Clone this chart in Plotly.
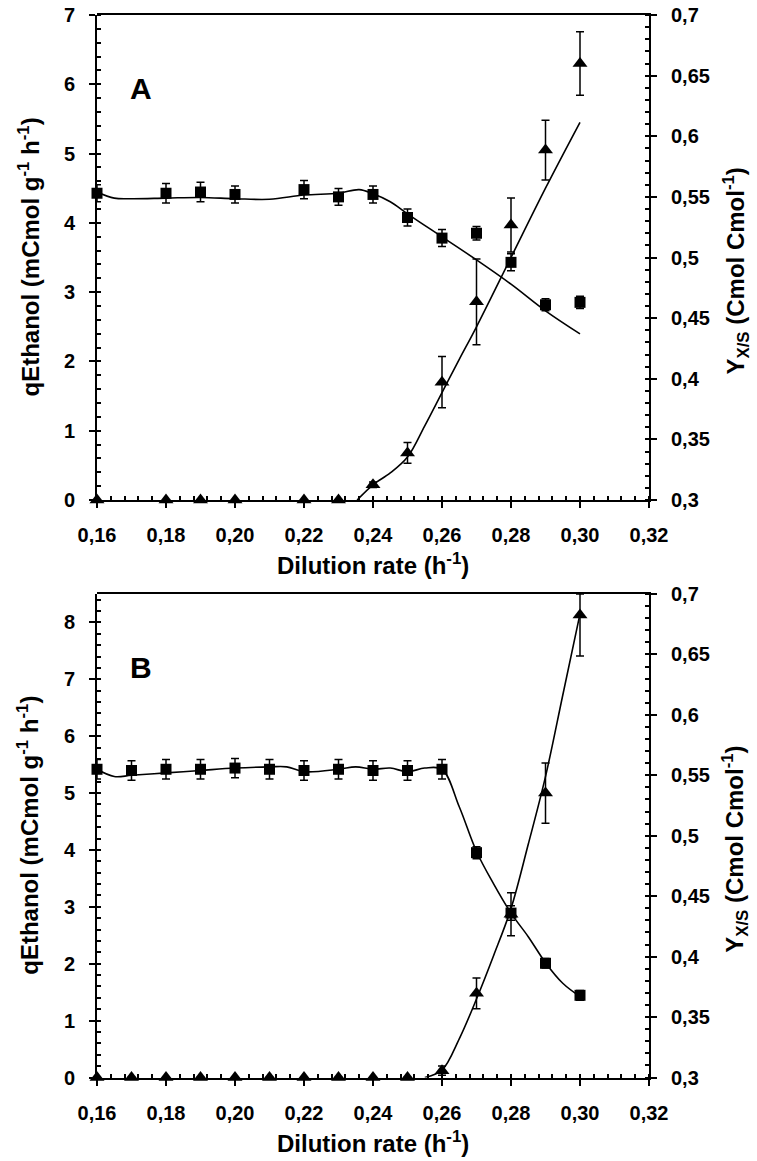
import plotly.graph_objects as go

# ---------------- data ----------------
# Panel A
dil_A = [0.16, 0.18, 0.19, 0.20, 0.22, 0.23, 0.24, 0.25, 0.26, 0.27, 0.28, 0.29, 0.30]
yxs_A = [0.553, 0.553, 0.554, 0.552, 0.556, 0.550, 0.552, 0.533, 0.516, 0.520, 0.496, 0.461, 0.463]
yxs_A_err = [0.007, 0.008, 0.008, 0.007, 0.0075, 0.007, 0.007, 0.007, 0.007, 0.0055, 0.007, 0.005, 0.005]
qeth_A = [0, 0, 0, 0, 0, 0, 0.22, 0.68, 1.70, 2.86, 3.97, 5.05, 6.30]
qeth_A_err = [0, 0, 0, 0, 0, 0, 0.04, 0.15, 0.37, 0.62, 0.39, 0.43, 0.46]

fitx_yxs_A = [0.16, 0.165, 0.17, 0.18, 0.19, 0.20, 0.21, 0.22, 0.23, 0.236, 0.24, 0.245, 0.25,
              0.26, 0.27, 0.28, 0.29, 0.30]
fity_yxs_A = [0.554, 0.549, 0.5485, 0.549, 0.5495, 0.5485, 0.548, 0.5515, 0.553, 0.556, 0.5525,
              0.546, 0.536, 0.517, 0.498, 0.478, 0.456, 0.437]
fitx_qeth_A = [0.2354, 0.24, 0.245, 0.25, 0.255, 0.26, 0.265, 0.27, 0.28, 0.29, 0.30]
fity_qeth_A = [0.0, 0.22, 0.39, 0.62, 1.07, 1.55, 2.03, 2.5, 3.5, 4.5, 5.45]

# Panel B
dil_B = [0.16, 0.17, 0.18, 0.19, 0.20, 0.21, 0.22, 0.23, 0.24, 0.25, 0.26, 0.27, 0.28, 0.29, 0.30]
yxs_B = [0.555, 0.554, 0.555, 0.555, 0.556, 0.555, 0.554, 0.555, 0.554, 0.554, 0.555,
         0.486, 0.436, 0.3945, 0.368]
yxs_B_err = [0.008] * 11 + [0.005, 0.006, 0.004, 0.004]
qeth_B = [0, 0, 0, 0, 0, 0, 0, 0, 0, 0, 0.12, 1.48, 2.87, 5.0, 8.13]
qeth_B_err_plus = [0] * 10 + [0.08, 0.27, 0.38, 0.53, 0.37]
qeth_B_err_minus = [0] * 10 + [0.08, 0.27, 0.38, 0.53, 0.72]

fitx_yxs_B = [0.16, 0.165, 0.17, 0.18, 0.19, 0.20, 0.21, 0.215, 0.22, 0.23, 0.235, 0.24, 0.245,
              0.25, 0.255, 0.26, 0.265, 0.27, 0.275, 0.28, 0.285, 0.29, 0.295, 0.30]
fity_yxs_B = [0.555, 0.549, 0.550, 0.552, 0.554, 0.556, 0.557, 0.557, 0.553, 0.555, 0.557, 0.555,
              0.556, 0.553, 0.556, 0.555, 0.524, 0.487, 0.460, 0.436, 0.4165, 0.395, 0.378, 0.367]
fitx_qeth_B = [0.255, 0.26, 0.265, 0.27, 0.275, 0.28, 0.285, 0.29, 0.295, 0.30]
fity_qeth_B = [0.0, 0.13, 0.68, 1.38, 2.15, 2.97, 4.1, 5.29, 6.72, 8.15]

# tick labels
x_tickvals = [0.16, 0.18, 0.20, 0.22, 0.24, 0.26, 0.28, 0.30, 0.32]
x_ticktext = ["0,16", "0,18", "0,20", "0,22", "0,24", "0,26", "0,28", "0,30", "0,32"]
yA_tickvals = [0, 1, 2, 3, 4, 5, 6, 7]
yA_ticktext = ["0", "1", "2", "3", "4", "5", "6", "7"]
yB_tickvals = [0, 1, 2, 3, 4, 5, 6, 7, 8]
yB_ticktext = ["0", "1", "2", "3", "4", "5", "6", "7", "8"]
r_tickvals = [0.3, 0.35, 0.4, 0.45, 0.5, 0.55, 0.6, 0.65, 0.7]
r_ticktext = ["0,3", "0,35", "0,4", "0,45", "0,5", "0,55", "0,6", "0,65", "0,7"]

# ---------------- layout geometry ----------------
W, H = 757, 1161
FONT = "Liberation Sans"


def fx(px):
    return px / W


def fy(py):
    return (H - py) / H


X_L, X_R = 97, 649
A_T, A_B = 15, 500
B_T, B_B = 594, 1077.5
X_RANGE = [0.16, 0.32]
YA_RANGE = [0, 7]
YB_RANGE = [0, 8.5]
PAD = 14  # px of breathing room so markers on the frame edge are not clipped

x_dom = [fx(X_L), fx(X_R)]
yA_dom = [fy(A_B), fy(A_T)]
yB_dom = [fy(B_B), fy(B_T)]


def padded(rng, p0, p1):
    """extend an axis range by PAD pixels each side, keeping the same px/unit scale"""
    per_px = (rng[1] - rng[0]) / abs(p1 - p0)
    return [rng[0] - PAD * per_px, rng[1] + PAD * per_px]


fig = go.Figure()

LINE = dict(color="black", width=1.6)
ERR = dict(color="black", thickness=1.5, width=4)


def add_panel(xa, ya_right, ya_left, xa_pad, ya_pad, dil, yxs, yxs_err, qeth, qerr_p, qerr_m,
              fxs, fys, fxq, fyq):
    fig.add_trace(go.Scatter(x=fxs, y=fys, mode="lines", line=dict(shape="spline", smoothing=1.0, **LINE),
                             xaxis=xa, yaxis=ya_right, showlegend=False, hoverinfo="skip"))
    fig.add_trace(go.Scatter(x=fxq, y=fyq, mode="lines", line=dict(shape="spline", smoothing=1.0, **LINE),
                             xaxis=xa, yaxis=ya_left, showlegend=False, hoverinfo="skip"))
    fig.add_trace(go.Scatter(x=dil, y=yxs, mode="markers",
                             marker=dict(symbol="square", size=11, color="black"),
                             error_y=dict(type="data", array=yxs_err, visible=True, **ERR),
                             xaxis=xa, yaxis=ya_right, showlegend=False, cliponaxis=False))
    # triangles on a padded (hidden) copy of the left scale so that points on the frame stay whole
    fig.add_trace(go.Scatter(x=dil, y=qeth, mode="markers",
                             marker=dict(symbol="triangle-up", size=13, color="black"),
                             error_y=dict(type="data", array=qerr_p, arrayminus=qerr_m,
                                          symmetric=False, visible=True, **ERR),
                             xaxis=xa_pad, yaxis=ya_pad, showlegend=False, cliponaxis=False))


add_panel("x", "y", "y2", "x3", "y5", dil_A, yxs_A, yxs_A_err, qeth_A, qeth_A_err, qeth_A_err,
          fitx_yxs_A, fity_yxs_A, fitx_qeth_A, fity_qeth_A)
add_panel("x2", "y3", "y4", "x4", "y6", dil_B, yxs_B, yxs_B_err, qeth_B, qeth_B_err_plus,
          qeth_B_err_minus, fitx_yxs_B, fity_yxs_B, fitx_qeth_B, fity_qeth_B)

tickfont = dict(family=FONT, size=20, color="black", weight="bold")


def xaxis_cfg(anchor):
    return dict(domain=x_dom, anchor=anchor, range=X_RANGE, tickmode="array",
                tickvals=x_tickvals, ticktext=x_ticktext, ticks="outside", ticklen=6,
                tickwidth=2, tickcolor="black", showline=True, linewidth=2, linecolor="black",
                mirror=True, showgrid=False, zeroline=False, tickfont=tickfont,
                ticklabelstandoff=10, automargin=False, layer="below traces",
                minor=dict(tickmode="linear", tick0=0.16, dtick=0.004, ticks="inside",
                           ticklen=4, tickwidth=1.5, tickcolor="black", showgrid=False))


def yleft_cfg(dom, anchor, rng, tv, tt):
    return dict(domain=dom, anchor=anchor, side="left", range=rng, tickmode="array",
                tickvals=tv, ticktext=tt,
                ticks="outside", ticklen=6, tickwidth=2, tickcolor="black", showline=True,
                linewidth=2, linecolor="black", showgrid=False, zeroline=False,
                tickfont=tickfont, ticklabelstandoff=10, automargin=False, layer="below traces",
                minor=dict(tickmode="linear", tick0=0, dtick=0.2, ticks="inside", ticklen=4,
                           tickwidth=1.5, tickcolor="black", showgrid=False))


def yright_cfg(dom, anchor):
    return dict(domain=dom, anchor=anchor, side="right", range=[0.3, 0.7],
                tickmode="array", tickvals=r_tickvals, ticktext=r_ticktext,
                ticks="outside", ticklen=6, tickwidth=2, tickcolor="black", showline=True,
                linewidth=2, linecolor="black", showgrid=False, zeroline=False,
                tickfont=tickfont, ticklabelstandoff=10, automargin=False, layer="below traces",
                minor=dict(tickmode="linear", tick0=0.3, dtick=0.01, ticks="inside", ticklen=4,
                           tickwidth=1.5, tickcolor="black", showgrid=False))


def hidden_axis(dom, anchor, rng):
    return dict(domain=dom, anchor=anchor, range=rng, visible=False, automargin=False,
                showgrid=False, zeroline=False)


title_font = dict(family=FONT, size=24, color="black", weight="bold")
letter_font = dict(family=FONT, size=30, color="black", weight="bold")

annotations = []
for (top, bot, letter, ly) in [(A_T, A_B, "A", 88), (B_T, B_B, "B", 667)]:
    mid = (top + bot) / 2
    annotations.append(dict(text="Dilution rate (h<sup>-1</sup>)", x=fx(373), y=fy(bot + 64),
                            xref="paper", yref="paper", showarrow=False, font=title_font,
                            xanchor="center", yanchor="middle"))
    annotations.append(dict(text="qEthanol (mCmol g<sup>-1</sup> h<sup>-1</sup>)", x=fx(28),
                            y=fy(mid), xref="paper", yref="paper", showarrow=False,
                            font=title_font, textangle=-90, xanchor="center", yanchor="middle"))
    annotations.append(dict(text="Y<sub>X/S</sub> (Cmol Cmol<sup>-1</sup>)", x=fx(735),
                            y=fy(mid + 14), xref="paper", yref="paper", showarrow=False,
                            font=title_font, textangle=-90, xanchor="center", yanchor="middle"))
    annotations.append(dict(text=letter, x=fx(141), y=fy(ly), xref="paper", yref="paper",
                            showarrow=False, font=letter_font, xanchor="center",
                            yanchor="middle"))

x_pad_dom = [fx(X_L - PAD), fx(X_R + PAD)]
x_pad_rng = padded(X_RANGE, X_L, X_R)

fig.update_layout(
    width=W, height=H,
    margin=dict(l=0, r=0, t=0, b=0),
    paper_bgcolor="white", plot_bgcolor="rgba(0,0,0,0)",
    showlegend=False,
    xaxis=xaxis_cfg("y"),
    yaxis=yright_cfg(yA_dom, "x"),
    yaxis2=yleft_cfg(yA_dom, "x", YA_RANGE, yA_tickvals, yA_ticktext),
    xaxis2=xaxis_cfg("y3"),
    yaxis3=yright_cfg(yB_dom, "x2"),
    yaxis4=yleft_cfg(yB_dom, "x2", YB_RANGE, yB_tickvals, yB_ticktext),
    xaxis3=hidden_axis(x_pad_dom, "y5", x_pad_rng),
    yaxis5=hidden_axis([fy(A_B + PAD), fy(A_T - PAD)], "x3", padded(YA_RANGE, A_T, A_B)),
    xaxis4=hidden_axis(x_pad_dom, "y6", x_pad_rng),
    yaxis6=hidden_axis([fy(B_B + PAD), fy(B_T - PAD)], "x4", padded(YB_RANGE, B_T, B_B)),
    annotations=annotations,
)

fig.write_html("out.html", config={"displayModeBar": False},
               post_script="document.body.style.margin='0px';document.body.style.padding='0px';")
